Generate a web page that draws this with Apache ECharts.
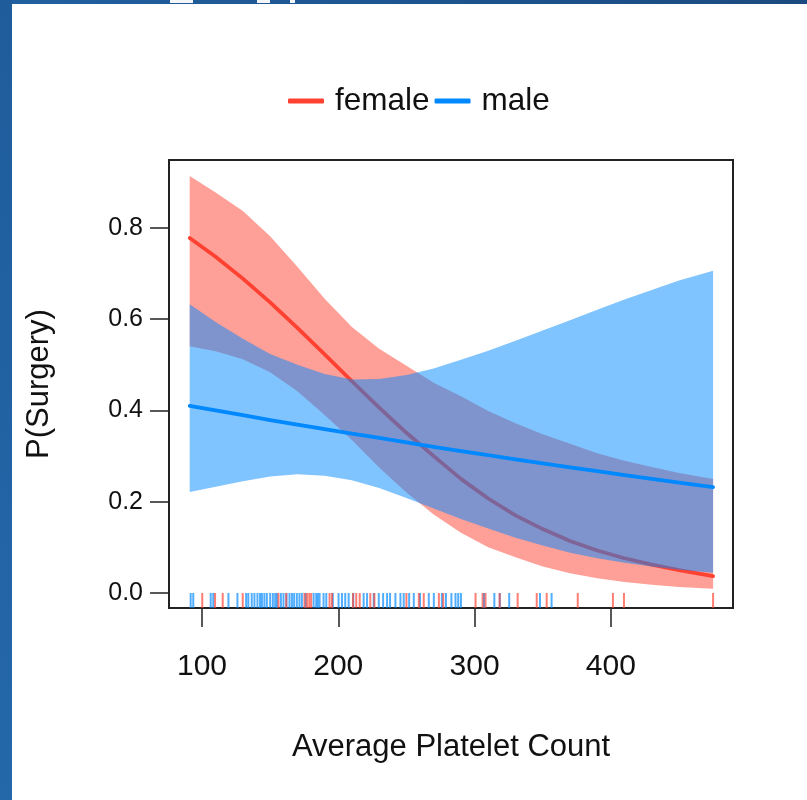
<!DOCTYPE html>
<html>
<head>
<meta charset="utf-8">
<script src="https://cdn.jsdelivr.net/npm/echarts@6/dist/echarts.min.js"></script>
<style>
html,body{margin:0;padding:0;background:#fff;}
#chart{width:807px;height:800px;}
</style>
</head>
<body>
<div id="chart"></div>
<script>
// ---- data ----
const xGrid = [91,110,130,150,170,190,210,230,250,270,290,310,330,350,370,390,410,430,450,475];

const femaleFit   = [0.778,0.737,0.689,0.637,0.581,0.523,0.464,0.406,0.351,0.300,0.250,0.207,0.170,0.140,0.114,0.093,0.076,0.062,0.050,0.037];
const femaleUpper = [0.914,0.878,0.837,0.782,0.715,0.645,0.583,0.535,0.498,0.461,0.431,0.399,0.372,0.348,0.327,0.306,0.290,0.276,0.263,0.250];
const femaleLower = [0.541,0.530,0.512,0.484,0.442,0.390,0.335,0.275,0.220,0.172,0.132,0.100,0.078,0.058,0.043,0.032,0.024,0.018,0.013,0.009];

const maleFit   = [0.410,0.400,0.390,0.379,0.369,0.359,0.349,0.340,0.330,0.320,0.311,0.302,0.293,0.284,0.275,0.267,0.258,0.250,0.242,0.232];
const maleUpper = [0.633,0.594,0.557,0.524,0.500,0.480,0.468,0.469,0.478,0.492,0.511,0.531,0.553,0.575,0.598,0.621,0.643,0.664,0.685,0.706];
const maleLower = [0.221,0.233,0.245,0.255,0.260,0.257,0.247,0.230,0.208,0.185,0.162,0.141,0.121,0.104,0.088,0.076,0.066,0.058,0.051,0.044];

const femaleRug = [100.2,109.6,115.2,129.9,156.1,161.8,175.2,177,178.7,180.1,193.6,195.4,210.8,213.2,215.7,223.5,226.5,250,259.1,262.7,273.8,277,300.7,305.9,308,318.4,331.6,345.6,352.9,375.7,401.5,409.6,475];
const maleRug = [91.7,93.6,106.4,108.3,119.4,126,132.4,134,136.5,138.5,140.7,142.6,144,145.8,147.6,150,152,153.7,155,157.9,159.8,162,164.2,166,167.6,169.6,171.5,173.3,176,181.9,183.8,185,186.3,189.2,191.2,196,200.2,202.7,205.1,207.6,211,218.6,221.1,226,229.7,232.9,235.8,238,241.9,245.6,248,252,255.4,260,266.4,270.1,276,279,283,286,288,290,306.9,314.5,318.5,325.4,348,356.5];

const xTicks = [100,200,300,400];
const yTicks = [0,0.2,0.4,0.6,0.8];
const seriesNames = ['female','male'];
const axisTitles = {x:'Average Platelet Count', y:'P(Surgery)'};

// ---- styles ----
const RED = '#FF4131', BLUE = '#0088FF';
const RED_FILL = 'rgba(255,65,49,0.5)', BLUE_FILL = 'rgba(0,136,255,0.5)';
const FONT = 'Liberation Sans, Arial, sans-serif';

function pairs(vals){ return xGrid.map((x,i)=>[x, vals[i]]); }

// confidence band drawn as a polygon through the axis scales
function bandSeries(id, lower, upper, fill, z){
  return {
    type:'custom', id:id, silent:true, z:z,
    data:[0],
    renderItem:function(params, api){
      const pts = [];
      for (let i=0;i<xGrid.length;i++) pts.push(api.coord([xGrid[i], upper[i]]));
      for (let i=xGrid.length-1;i>=0;i--) pts.push(api.coord([xGrid[i], lower[i]]));
      return {type:'polygon', shape:{points:pts}, style:{fill:fill, stroke:null}};
    }
  };
}

const chart = echarts.init(document.getElementById('chart'), null, {renderer:'canvas'});
const option = {
  animation:false,
  backgroundColor:'#fff',
  legend:{
    data:seriesNames,
    left:283, top:80,
    icon:'roundRect', itemWidth:36, itemHeight:5, itemGap:5,
    textStyle:{fontSize:31.5, color:'#111', fontFamily:FONT, padding:[0,0,0,6]}
  },
  grid:{left:169, right:74, top:160, bottom:192, show:true, borderColor:'#222', borderWidth:2, backgroundColor:'transparent'},
  xAxis:{
    type:'value', min:75.8, max:489.6,
    splitLine:{show:false},
    axisLine:{show:false, onZero:false},
    axisTick:{show:true, length:19, customValues:xTicks, lineStyle:{color:'#222', width:1.5}},
    axisLabel:{customValues:xTicks, fontSize:30, color:'#111', margin:44, fontFamily:FONT},
    name:axisTitles.x, nameLocation:'middle', nameGap:124,
    nameTextStyle:{fontSize:31, color:'#111', fontFamily:FONT}
  },
  yAxis:{
    type:'value', min:-0.033, max:0.949,
    splitLine:{show:false},
    axisLine:{show:false, onZero:false},
    axisTick:{show:true, length:19, customValues:yTicks, lineStyle:{color:'#222', width:1.5}},
    axisLabel:{customValues:yTicks, fontSize:25, color:'#111', margin:26, fontFamily:FONT,
      padding:[4,0,0,0], formatter:v=>Number(v).toFixed(1)},
    name:axisTitles.y, nameLocation:'middle', nameGap:114,
    nameTextStyle:{fontSize:31, color:'#111', fontFamily:FONT}
  },
  series:[
    bandSeries('fBand', femaleLower, femaleUpper, RED_FILL, 1),
    {type:'line', name:seriesNames[0], z:2, data:pairs(femaleFit), symbol:'none', smooth:false,
     lineStyle:{color:RED, width:3.8, cap:'round', join:'round'}, itemStyle:{color:RED}},
    bandSeries('mBand', maleLower, maleUpper, BLUE_FILL, 3),
    {type:'line', name:seriesNames[1], z:4, data:pairs(maleFit), symbol:'none', smooth:false,
     lineStyle:{color:BLUE, width:3.8, cap:'round', join:'round'}, itemStyle:{color:BLUE}},
    {type:'scatter', id:'maleRug', z:5, data:maleRug.map(v=>[v,-0.0165]), symbol:'rect', symbolSize:[2,15],
     itemStyle:{color:'rgba(0,136,255,0.85)'}, silent:true},
    {type:'scatter', id:'femaleRug', z:6, data:femaleRug.map(v=>[v,-0.0165]), symbol:'rect', symbolSize:[2,15],
     itemStyle:{color:'rgba(255,65,49,0.85)'}, silent:true}
  ],
  graphic:[
    {type:'rect', left:0, top:0, z:100, shape:{width:807, height:4},
     style:{fill:new echarts.graphic.LinearGradient(0,0,1,0,[{offset:0,color:'#2160a0'},{offset:1,color:'#1b4a80'}])}},
    {type:'rect', left:170, top:0, z:101, shape:{width:23, height:3}, style:{fill:'#f4f6fa'}},
    {type:'rect', left:257, top:0, z:101, shape:{width:13, height:3}, style:{fill:'#f4f6fa'}},
    {type:'rect', left:290, top:0, z:101, shape:{width:5, height:3}, style:{fill:'#f4f6fa'}},
    {type:'rect', left:0, top:0, z:100, shape:{width:12, height:800},
     style:{fill:new echarts.graphic.LinearGradient(0,0,0,1,[{offset:0,color:'#1f5c9c'},{offset:1,color:'#2468aa'}])}}
  ]
};
chart.setOption(option);
</script>
</body>
</html>
